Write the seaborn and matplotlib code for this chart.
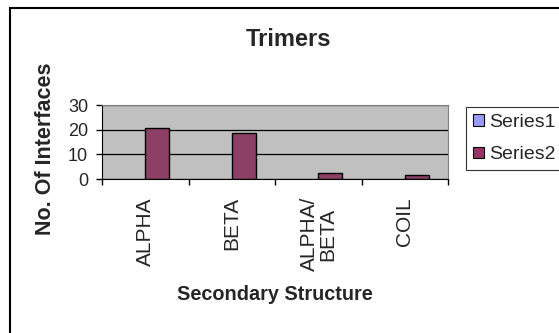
import numpy as np
import pandas as pd
import matplotlib
matplotlib.use("Agg")
import matplotlib.pyplot as plt
import seaborn as sns
from matplotlib.patches import Rectangle

# ---------- Data ----------
categories = ["ALPHA", "BETA", "ALPHA/\nBETA", "COIL"]
series1 = [0, 0, 0, 0]
series2 = [20.5, 18.5, 2.5, 1.5]
series_names = ["Series1", "Series2"]
colors = ["#9999FF", "#993366"]
y_ticks = [0, 10, 20, 30]

df = pd.DataFrame({
    "Secondary Structure": categories * 2,
    "Value": series1 + series2,
    "Series": [series_names[0]] * 4 + [series_names[1]] * 4,
})

sns.set_style("white")
plt.rcParams["font.family"] = ["Liberation Sans", "DejaVu Sans"]

W, H = 559, 333
fig = plt.figure(figsize=(W / 100, H / 100), dpi=100)
# plot area in pixels: x 102-448, y 105-179
ax = fig.add_axes([102 / W, 1 - 179 / H, 346 / W, 74 / H])
ax.set_facecolor("#C0C0C0")

sns.barplot(
    data=df, x="Secondary Structure", y="Value", hue="Series",
    palette=colors, width=0.56, edgecolor="black",
    linewidth=1.0, ax=ax, legend=False,
)
# zero-height bars show no outline in the original
for p in ax.patches:
    if p.get_height() == 0:
        p.set_linewidth(0)

ax.set_ylim(0, 30)
ax.set_xlim(-0.5, 3.5)
ax.set_yticks(y_ticks)
ax.yaxis.grid(True, color="black", linewidth=0.9)
ax.set_axisbelow(True)
for s in ["top", "right"]:
    ax.spines[s].set_color("#808080")
for s in ["left", "bottom"]:
    ax.spines[s].set_color("black")
ax.tick_params(axis="y", direction="out", length=4, width=1, left=True,
               labelsize=13, pad=6, color="black")

# tick marks at category boundaries, labels at centers
ax.set_xticks(np.arange(len(categories)))
ax.set_xticklabels(categories, rotation=90, fontsize=15, va="top",
                   linespacing=0.95)
ax.set_xticks(np.arange(len(categories) + 1) - 0.5, minor=True)
ax.tick_params(axis="x", which="major", length=0, pad=13)
ax.tick_params(axis="x", which="minor", direction="out", length=4.3, width=1,
               bottom=True, color="black")
ax.set_xlabel("")
ax.set_ylabel("")

fig.text(275 / W, 1 - 295 / H, "Secondary Structure", fontsize=14.3,
         fontweight="bold", ha="center", va="center")
fig.text(46 / W, 1 - 149 / H, "No. Of Interfaces", fontsize=15.5,
         fontweight="bold", ha="center", va="center", rotation=90)
fig.text(288 / W, 1 - 39 / H, "Trimers", fontsize=17,
         fontweight="bold", ha="center", va="center")

# legend
handles = [Rectangle((0, 0), 1, 1, facecolor=c, edgecolor="black", linewidth=0.8)
           for c in colors]
leg = fig.legend(handles, series_names, loc="upper left",
                 bbox_to_anchor=(466 / W, 1 - 107 / H), fontsize=14,
                 frameon=True, fancybox=False, handlelength=0.55,
                 handleheight=0.55, handletextpad=0.3, labelspacing=0.8,
                 borderpad=0.35, borderaxespad=0)
leg.get_frame().set_edgecolor("black")
leg.get_frame().set_linewidth(0.8)

# outer chart frame
fig.patches.append(Rectangle((10 / W, -0.1), 1.2, 1 - 8 / H + 0.1,
                             transform=fig.transFigure, fill=False,
                             edgecolor="black", linewidth=1.5))

fig.savefig("out.png", dpi=100)
